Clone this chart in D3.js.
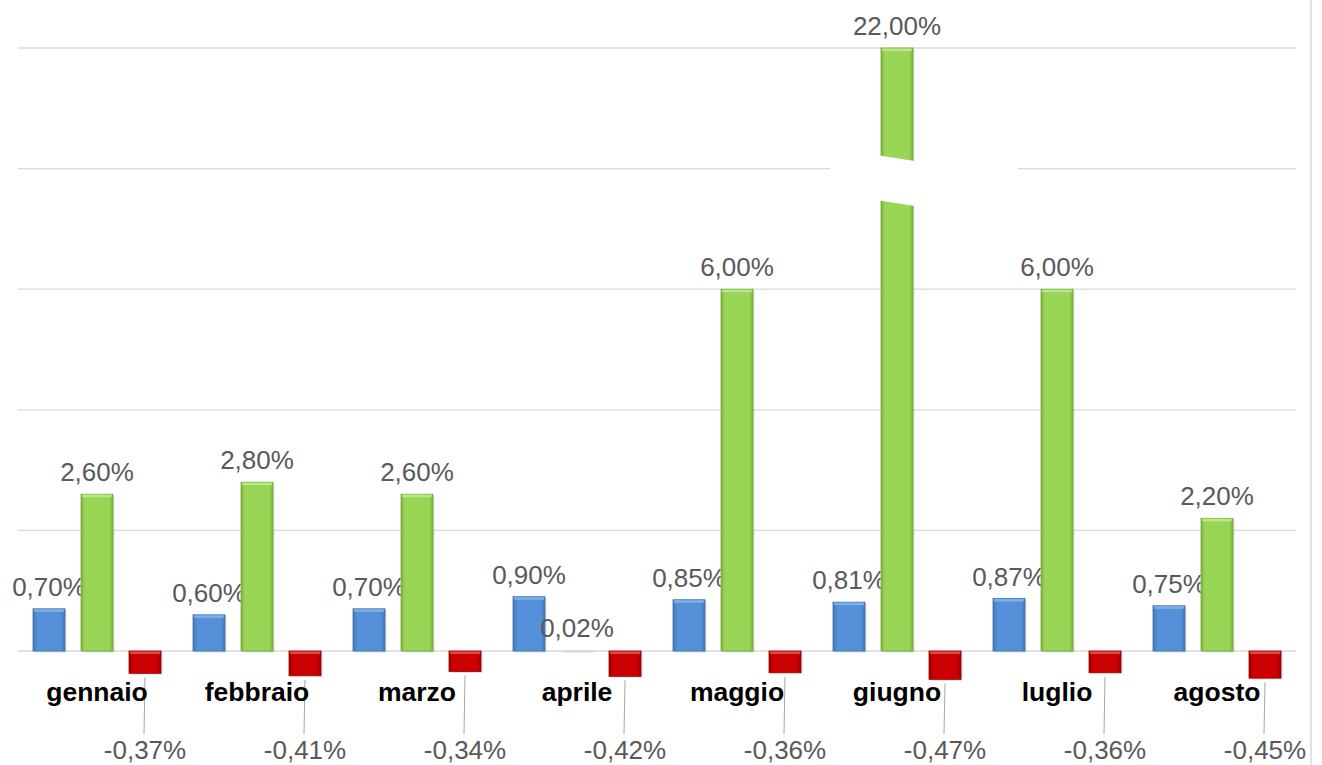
<!DOCTYPE html>
<html><head><meta charset="utf-8">
<script src="https://cdn.jsdelivr.net/npm/d3@7"></script>
<style>
html,body{margin:0;padding:0;background:#fff;}
svg{display:block;}
</style></head>
<body>
<svg id="chart" width="1322" height="765"></svg>
<script>
const months = ["gennaio","febbraio","marzo","aprile","maggio","giugno","luglio","agosto"];
const seriesNames = ["blu","verde","rosso"];
const blueValues  = [0.70, 0.60, 0.70, 0.90, 0.85, 0.81, 0.87, 0.75];
const greenValues = [2.60, 2.80, 2.60, 0.02, 6.00, 22.00, 6.00, 2.20];
const redValues   = [-0.37, -0.41, -0.34, -0.42, -0.36, -0.47, -0.36, -0.45];
const yTicks = [0, 2, 4, 6, 8, 10];
const yMax = 10;

const colors = {blu:"#5591d9", verde:"#99d656", rosso:"#cc0000"};
const dark = {blu:"#3f73b3", verde:"#76b03c", rosso:"#9a0000"};
const light = {blu:"#8bb8ec", verde:"#c2eb93", rosso:"#e85a5a"};

const svg = d3.select("#chart");
const x0 = d3.scaleBand().domain(months).range([17, 1297]).padding(0);
const x1 = d3.scaleBand().domain(seriesNames).range([0, x0.bandwidth()]).paddingInner(1/3).paddingOuter(1/3);
const y = d3.scaleLinear().domain([0, yMax]).range([651, 48]);

const it = d3.formatLocale({decimal:",", thousands:".", grouping:[3], currency:["","€"], minus:"-"});
const fmt = v => it.format(".2f")(v) + "%";

// right border
svg.append("line").attr("x1",1311).attr("x2",1311).attr("y1",0).attr("y2",765)
  .attr("stroke","#d9d9d9").attr("stroke-width",1.5);

// gridlines
svg.append("g").selectAll("line").data(yTicks).join("line")
  .attr("x1",18).attr("x2",1296)
  .attr("y1",d=>y(d)).attr("y2",d=>y(d))
  .attr("stroke","#d9d9d9").attr("stroke-width",1.3);

// gradients
const defs = svg.append("defs");
seriesNames.forEach(s=>{
  const g = defs.append("linearGradient").attr("id","g-"+s).attr("x1","0").attr("x2","1").attr("y1","0").attr("y2","0");
  g.append("stop").attr("offset","0").attr("stop-color",dark[s]);
  g.append("stop").attr("offset","0.12").attr("stop-color",colors[s]);
  g.append("stop").attr("offset","0.88").attr("stop-color",colors[s]);
  g.append("stop").attr("offset","1").attr("stop-color",dark[s]);
});

const rows = months.map((m,i)=>({month:m, values:[
  {s:"blu", v:blueValues[i]}, {s:"verde", v:greenValues[i]}, {s:"rosso", v:redValues[i]}
]}));

const groups = svg.append("g").selectAll("g").data(rows).join("g")
  .attr("transform", d=>`translate(${x0(d.month)},0)`);

const bars = groups.selectAll("g.bar").data(d=>d.values.map(v=>({...v, month:d.month}))).join("g").attr("class","bar");
const clamp = v => Math.min(v, yMax);
bars.append("rect")
  .attr("x", d=>x1(d.s)+1.5).attr("width", x1.bandwidth())
  .attr("y", d=>Math.min(y(clamp(d.v)), y(0))+1.5)
  .attr("height", d=>Math.abs(y(clamp(d.v))-y(0)))
  .attr("fill","#000").attr("opacity",0.12);
bars.append("rect")
  .attr("x", d=>x1(d.s)).attr("width", x1.bandwidth())
  .attr("y", d=>Math.min(y(clamp(d.v)), y(0)))
  .attr("height", d=>Math.abs(y(clamp(d.v))-y(0)))
  .attr("fill", d=>d.v < 0.05 && d.v > 0 ? "#e6e6e6" : `url(#g-${d.s})`)
  .attr("stroke", d=>d.v < 0.05 && d.v > 0 ? "none" : dark[d.s]).attr("stroke-width",0.8);
bars.filter(d=>Math.abs(y(clamp(d.v))-y(0))>6).append("rect")
  .attr("x", d=>x1(d.s)+1).attr("width", x1.bandwidth()-2)
  .attr("y", d=>Math.min(y(clamp(d.v)), y(0))+0.5)
  .attr("height", 2.5)
  .attr("fill", d=>light[d.s]).attr("opacity",0.8);

// axis break on the clipped bar
rows.forEach(r=>{
  r.values.filter(v=>v.v>yMax).forEach(v=>{
    const bx = x0(r.month) + x1(v.s), bw = x1.bandwidth();
    const slope = 5/bw;
    const yt = 155.7, yb = 200.7;
    const pts = [
      [bx-51, yt-3],[bx, yt],[bx+bw, yt+slope*bw],[bx+bw+105, yt+slope*bw+3],
      [bx+bw+105, yb+slope*bw+6],[bx+bw, yb+slope*bw],[bx, yb],[bx-51, yb-3]
    ];
    svg.append("path").attr("d", d3.line()(pts)+"Z").attr("fill","#fff");
  });
});

// value labels (positive)
const labelFont = "'Liberation Sans', Arial, sans-serif";
bars.filter(d=>d.v>=0).append("text")
  .attr("x", d=>x1(d.s)+x1.bandwidth()/2)
  .attr("y", d=>y(clamp(d.v))-13)
  .attr("text-anchor","middle")
  .attr("font-family",labelFont).attr("font-size",26).attr("fill","#595959")
  .text(d=>fmt(d.v));

// negative labels with leader lines
const negLabelY = 759;
const negBars = bars.filter(d=>d.v<0);
negBars.append("line")
  .attr("x1", d=>x1(d.s)+x1.bandwidth()/2)
  .attr("x2", d=>x1(d.s)+x1.bandwidth()/2-1)
  .attr("y1", d=>y(d.v)+4)
  .attr("y2", negLabelY-25)
  .attr("stroke","#a6a6a6").attr("stroke-width",1);
negBars.append("text")
  .attr("x", d=>x1(d.s)+x1.bandwidth()/2)
  .attr("y", negLabelY)
  .attr("text-anchor","middle")
  .attr("font-family",labelFont).attr("font-size",26).attr("fill","#595959")
  .text(d=>fmt(d.v));

// category labels
groups.append("text")
  .attr("x", x0.bandwidth()/2).attr("y", 701)
  .attr("text-anchor","middle")
  .attr("font-family",labelFont).attr("font-size",26.5).attr("font-weight","bold").attr("fill","#000")
  .text(d=>d.month);
</script>
</body></html>
